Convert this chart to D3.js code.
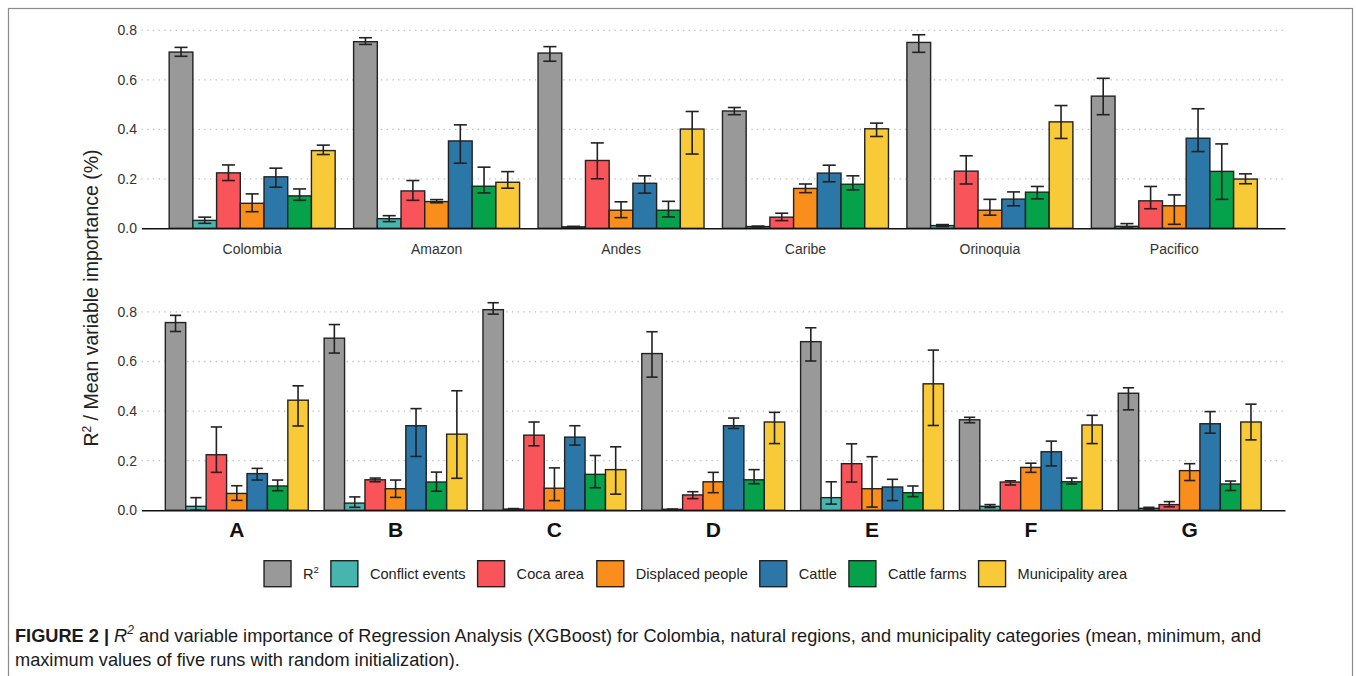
<!DOCTYPE html>
<html>
<head>
<meta charset="utf-8">
<script src="https://cdn.jsdelivr.net/npm/d3@7"></script>
<style>
  body { margin: 0; background: #fff; }
  text { font-family: "Liberation Sans", Arial, Helvetica, sans-serif; }
</style>
</head>
<body>
<script>
// variables (legend order) and fill colours
const variables = ["R2", "Conflict events", "Coca area", "Displaced people", "Cattle", "Cattle farms", "Municipality area"];
const colors = ["#999999", "#45b5ad", "#f8545a", "#f98e1c", "#2a77a8", "#05a14b", "#f8ca38"];

// top panel: Colombia and natural regions
const regions = ["Colombia", "Amazon", "Andes", "Caribe", "Orinoquia", "Pacifico"];
const regionMean = [
  [0.712, 0.032, 0.224, 0.101, 0.208, 0.131, 0.314],
  [0.754, 0.039, 0.151, 0.108, 0.353, 0.170, 0.186],
  [0.708, 0.006, 0.274, 0.073, 0.182, 0.073, 0.401],
  [0.474, 0.007, 0.045, 0.161, 0.223, 0.178, 0.402],
  [0.751, 0.011, 0.231, 0.073, 0.118, 0.146, 0.430],
  [0.534, 0.008, 0.111, 0.091, 0.364, 0.230, 0.199]
];
const regionMin = [
  [0.695, 0.020, 0.193, 0.067, 0.166, 0.113, 0.298],
  [0.743, 0.027, 0.113, 0.103, 0.263, 0.143, 0.162],
  [0.675, 0.004, 0.200, 0.043, 0.142, 0.046, 0.300],
  [0.459, 0.005, 0.031, 0.144, 0.188, 0.155, 0.371],
  [0.711, 0.007, 0.179, 0.053, 0.091, 0.119, 0.363],
  [0.459, 0.005, 0.079, 0.016, 0.310, 0.117, 0.180]
];
const regionMax = [
  [0.731, 0.045, 0.256, 0.139, 0.243, 0.159, 0.336],
  [0.770, 0.051, 0.193, 0.116, 0.418, 0.247, 0.229],
  [0.734, 0.008, 0.345, 0.107, 0.212, 0.109, 0.472],
  [0.488, 0.009, 0.061, 0.179, 0.255, 0.212, 0.425],
  [0.782, 0.015, 0.293, 0.117, 0.147, 0.169, 0.496],
  [0.606, 0.019, 0.169, 0.135, 0.483, 0.341, 0.220]
];

// bottom panel: municipality categories
const categories = ["A", "B", "C", "D", "E", "F", "G"];
const categoryMean = [
  [0.757, 0.016, 0.224, 0.068, 0.148, 0.098, 0.444],
  [0.694, 0.029, 0.123, 0.087, 0.341, 0.114, 0.307],
  [0.809, 0.005, 0.303, 0.089, 0.295, 0.145, 0.164],
  [0.632, 0.004, 0.062, 0.115, 0.341, 0.123, 0.356],
  [0.680, 0.051, 0.188, 0.087, 0.094, 0.071, 0.510],
  [0.365, 0.016, 0.114, 0.173, 0.236, 0.115, 0.344],
  [0.472, 0.008, 0.023, 0.160, 0.349, 0.106, 0.356]
];
const categoryMin = [
  [0.721, 0.001, 0.153, 0.040, 0.122, 0.079, 0.340],
  [0.634, 0.012, 0.115, 0.052, 0.217, 0.077, 0.129],
  [0.791, 0.003, 0.260, 0.039, 0.263, 0.091, 0.065],
  [0.537, 0.002, 0.047, 0.071, 0.330, 0.107, 0.269],
  [0.602, 0.025, 0.114, 0.013, 0.039, 0.055, 0.342],
  [0.353, 0.011, 0.102, 0.153, 0.179, 0.106, 0.269],
  [0.405, 0.004, 0.014, 0.120, 0.311, 0.080, 0.284]
];
const categoryMax = [
  [0.786, 0.051, 0.336, 0.099, 0.169, 0.122, 0.502],
  [0.749, 0.054, 0.130, 0.122, 0.410, 0.154, 0.482],
  [0.837, 0.007, 0.356, 0.171, 0.341, 0.221, 0.256],
  [0.720, 0.005, 0.075, 0.153, 0.372, 0.164, 0.395],
  [0.736, 0.115, 0.268, 0.216, 0.125, 0.098, 0.646],
  [0.375, 0.023, 0.119, 0.190, 0.279, 0.130, 0.383],
  [0.494, 0.012, 0.035, 0.188, 0.398, 0.118, 0.428]
];

const yTicks = [0, 0.2, 0.4, 0.6, 0.8];

const W = 1356, H = 676;
const left = 141.5, right = 1285;
const ink = "#222";

const svg = d3.select("body").append("svg")
    .attr("width", W)
    .attr("height", H);

// figure frame
svg.append("rect")
    .attr("x", 8.5).attr("y", 8.5)
    .attr("width", 1344).attr("height", 720)
    .attr("fill", "none")
    .attr("stroke", "#8c8c8c")
    .attr("stroke-width", 1.2);

function drawPanel(groups, mean, lo, hi, zeroY, topY, big) {
  const g = svg.append("g");

  const x = d3.scaleBand()
      .domain(groups)
      .range([left, right])
      .paddingInner(0.1)
      .paddingOuter(0.15);

  const xi = d3.scaleBand()
      .domain(variables)
      .range([0, x.bandwidth()]);

  const y = d3.scaleLinear()
      .domain([0, 0.8])
      .range([zeroY, topY]);

  // dotted horizontal grid
  g.selectAll(".grid")
    .data(yTicks.filter(d => d > 0))
    .enter().append("line")
      .attr("x1", left).attr("x2", right)
      .attr("y1", d => y(d)).attr("y2", d => y(d))
      .attr("stroke", "#bdbdbd")
      .attr("stroke-width", 1.3)
      .attr("stroke-dasharray", "1.3,4.4");

  // y axis labels
  const yAxis = g.append("g")
      .attr("transform", "translate(" + left + ",0)")
      .call(d3.axisLeft(y).tickValues(yTicks).tickFormat(d3.format(".1f")).tickSize(0).tickPadding(4.5));
  yAxis.select(".domain").remove();
  yAxis.selectAll("text")
      .attr("fill", "#333")
      .style("font-size", "14px")
      .style("font-family", "'Liberation Sans', Arial, sans-serif");

  const rows = [];
  groups.forEach((grp, i) => {
    variables.forEach((v, j) => {
      rows.push({ grp: grp, v: v, c: colors[j], m: mean[i][j], lo: lo[i][j], hi: hi[i][j] });
    });
  });

  g.selectAll(".bar")
    .data(rows)
    .enter().append("rect")
      .attr("x", d => x(d.grp) + xi(d.v))
      .attr("y", d => y(d.m))
      .attr("width", xi.bandwidth())
      .attr("height", d => y(0) - y(d.m))
      .attr("fill", d => d.c)
      .attr("stroke", ink)
      .attr("stroke-width", 1.4);

  // error bars (min / max of the runs)
  const cap = xi.bandwidth() * 0.55;
  const eb = g.selectAll(".eb")
    .data(rows)
    .enter().append("g")
      .attr("transform", d => "translate(" + (x(d.grp) + xi(d.v) + xi.bandwidth() / 2) + ",0)")
      .attr("stroke", ink)
      .attr("stroke-width", 1.6);
  eb.append("line")
      .attr("y1", d => y(d.lo)).attr("y2", d => y(d.hi));
  eb.append("line")
      .attr("x1", -cap / 2).attr("x2", cap / 2)
      .attr("y1", d => y(d.lo)).attr("y2", d => y(d.lo));
  eb.append("line")
      .attr("x1", -cap / 2).attr("x2", cap / 2)
      .attr("y1", d => y(d.hi)).attr("y2", d => y(d.hi));

  // x axis
  const xAxis = g.append("g")
      .attr("transform", "translate(0," + zeroY + ")")
      .call(d3.axisBottom(x).tickSize(0).tickSizeOuter(0).tickPadding(big ? 12 : 16));
  xAxis.select(".domain")
      .attr("stroke", "#111")
      .attr("stroke-width", 1.6);
  xAxis.selectAll("text")
      .attr("fill", big ? "#111" : "#333")
      .style("font-size", big ? "21px" : "14px")
      .style("font-weight", big ? "bold" : "normal")
      .style("font-family", "'Liberation Sans', Arial, sans-serif");
}

drawPanel(regions, regionMean, regionMin, regionMax, 228.3, 30.3, false);
drawPanel(categories, categoryMean, categoryMin, categoryMax, 510.3, 311.9, true);

// shared y title
const yTitle = svg.append("text")
    .attr("transform", "translate(98,298) rotate(-90)")
    .attr("text-anchor", "middle")
    .attr("fill", "#222")
    .style("font-size", "19.5px");
yTitle.append("tspan").text("R");
yTitle.append("tspan").attr("dy", -7).style("font-size", "12px").text("2");
yTitle.append("tspan").attr("dy", 7).text(" / Mean variable importance (%)");

// legend
const legend = svg.append("g");
const swW = 27, swH = 26, textGap = 12, itemGap = 12;
let lx = 0;
const items = legend.selectAll(".item")
  .data(variables)
  .enter().append("g");
items.append("rect")
    .attr("width", swW).attr("height", swH)
    .attr("fill", (d, i) => colors[i])
    .attr("stroke", ink)
    .attr("stroke-width", 1.4);
const labels = items.append("text")
    .attr("x", swW + textGap)
    .attr("y", swH / 2)
    .attr("dy", "0.35em")
    .attr("fill", "#222")
    .style("font-size", "14.6px");
labels.each(function(d) {
  const t = d3.select(this);
  if (d === "R2") {
    t.append("tspan").text("R");
    t.append("tspan").attr("dy", -6).style("font-size", "9.5px").text("2");
  } else {
    t.text(d);
  }
});
items.each(function() {
  const w = this.getBBox().width;
  d3.select(this).attr("transform", "translate(" + lx + ",0)");
  lx += w + itemGap;
});
lx -= itemGap;
legend.attr("transform", "translate(" + (696 - lx / 2) + ",560.7)");

// caption
const cap1 = svg.append("text")
    .attr("x", 15).attr("y", 641.5)
    .attr("fill", "#1a1a1a")
    .style("font-size", "18.2px");
cap1.append("tspan").style("font-weight", "bold").text("FIGURE 2 | ");
cap1.append("tspan").style("font-style", "italic").text("R");
cap1.append("tspan").attr("dy", -7.5).style("font-size", "12px").style("font-style", "italic").text("2");
cap1.append("tspan").attr("dy", 7.5).text(" and variable importance of Regression Analysis (XGBoost) for Colombia, natural regions, and municipality categories (mean, minimum, and");
svg.append("text")
    .attr("x", 15).attr("y", 666)
    .attr("fill", "#1a1a1a")
    .style("font-size", "18.2px")
    .text("maximum values of five runs with random initialization).");
</script>
</body>
</html>
